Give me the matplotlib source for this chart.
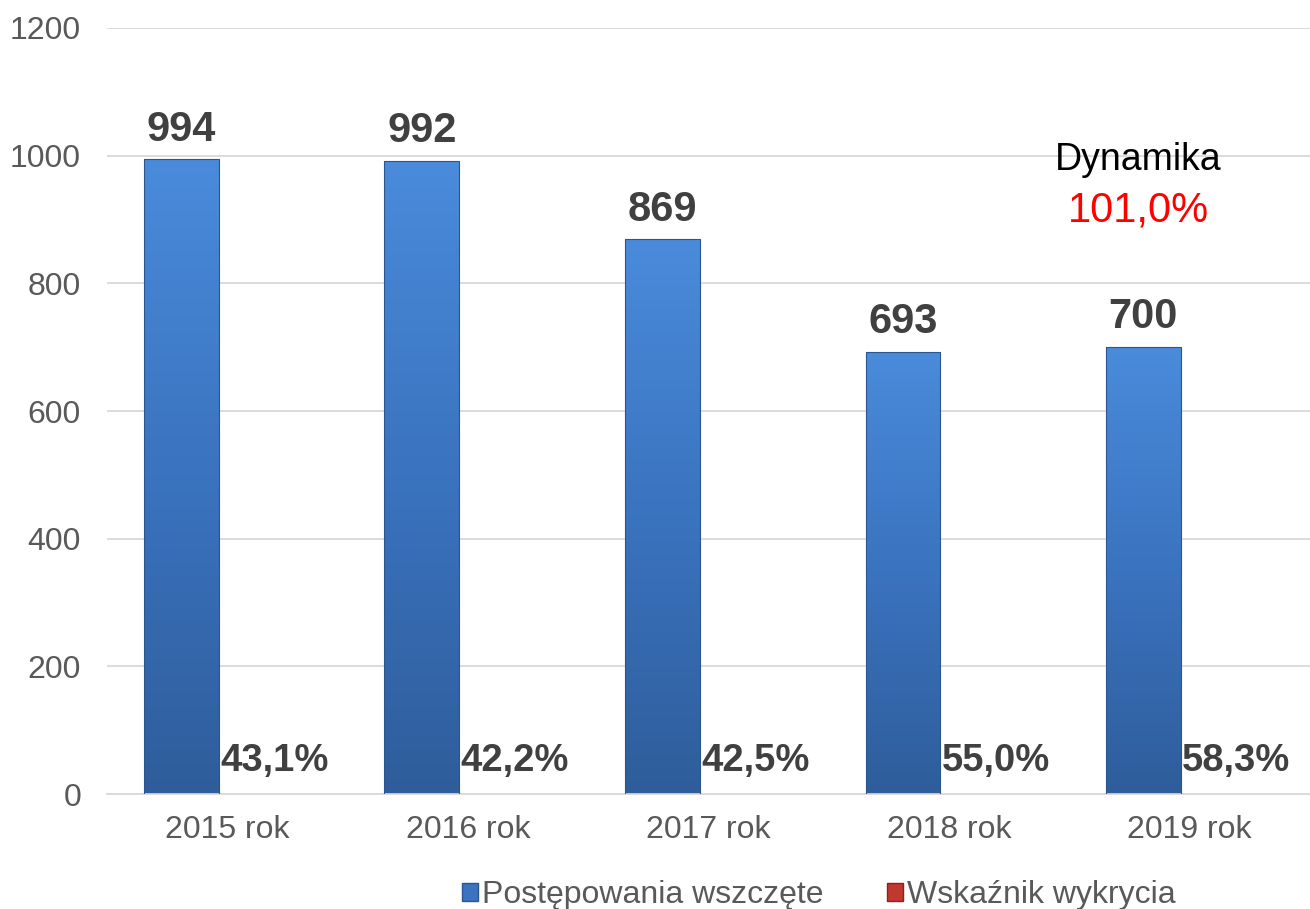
import numpy as np
import matplotlib.pyplot as plt
from matplotlib.colors import LinearSegmentedColormap
from matplotlib.patches import Patch

plt.rcParams['font.family'] = ['Liberation Sans', 'DejaVu Sans']

# dane
years = ['2015 rok', '2016 rok', '2017 rok', '2018 rok', '2019 rok']
wszczete = [994, 992, 869, 693, 700]
wykrycie = [0.431, 0.422, 0.425, 0.550, 0.583]
dynamika = '101,0%'

blue_cmap = LinearSegmentedColormap.from_list('b', ['#2f5d9b', '#3a73bf', '#4a8bdb'])
red_cmap = LinearSegmentedColormap.from_list('r', ['#8e1f1c', '#c0392f', '#e05a52'])


def gradient_bars(ax, bars, cmap):
    grad = np.linspace(0, 1, 256).reshape(-1, 1)
    for b in bars:
        x0, y0 = b.get_x(), b.get_y()
        w, h = b.get_width(), b.get_height()
        im = ax.imshow(grad, cmap=cmap, aspect='auto', origin='lower',
                       extent=[x0, x0 + w, y0, y0 + h], zorder=2)
        im.set_clip_path(b)


fig = plt.figure(figsize=(13.1, 9.09), dpi=100)
ax = fig.add_axes([0.082, 0.1265, 0.918, 0.8427])

x = np.arange(len(years))
w = 0.31
off = 0.193

b1 = ax.bar(x - off, wszczete, w, color='none', edgecolor='#2b5590', linewidth=0.8, zorder=3)
b2 = ax.bar(x + off, wykrycie, w, color='none', edgecolor='none', zorder=3)
gradient_bars(ax, b1, blue_cmap)
gradient_bars(ax, b2, red_cmap)

for xi, v in zip(x, wszczete):
    ax.annotate(str(v), (xi - off, v), xytext=(0, 13.5), textcoords='offset points',
                ha='center', va='baseline', fontsize=30, fontweight='bold', color='#404040')
for xi, r in zip(x, wykrycie):
    ax.annotate(f'{r * 100:.1f}%'.replace('.', ','), (xi + off, 0), xytext=(0, 16.5),
                textcoords='offset points', ha='center', va='baseline',
                fontsize=27.5, fontweight='bold', color='#404040')

ax.text(3.785, 993, 'Dynamika', ha='center', va='center', fontsize=27, color='black')
ax.text(3.785, 914, dynamika, ha='center', va='center', fontsize=30, color='#ff0000')

ax.set_xlim(-0.5, len(years) - 0.5)
ax.set_ylim(0, 1200)
ax.set_yticks(range(0, 1201, 200))
ax.set_xticks(x)
ax.set_xticklabels(years)
ax.yaxis.grid(True, color='#d9d9d9', linewidth=1.3)
ax.set_axisbelow(True)
for s in ['top', 'right', 'left']:
    ax.spines[s].set_visible(False)
ax.spines['bottom'].set_color('#d9d9d9')
ax.spines['bottom'].set_linewidth(1.3)
ax.tick_params(axis='both', length=0, labelsize=23, labelcolor='#595959')
ax.tick_params(axis='y', pad=19)
ax.tick_params(axis='x', pad=15)

handles = [Patch(facecolor='#3a73bf', edgecolor='#2b5590', label='Postępowania wszczęte'),
           Patch(facecolor='#c0392f', edgecolor='#8e1f1c', label='Wskaźnik wykrycia')]
leg = fig.legend(handles=handles, loc='lower center', bbox_to_anchor=(0.625, -0.033), ncol=2,
                 frameon=False, fontsize=23, handlelength=0.5, handleheight=0.5,
                 handletextpad=0.12, columnspacing=2.0)
for t in leg.get_texts():
    t.set_color('#595959')

fig.savefig('out.png', dpi=100)
